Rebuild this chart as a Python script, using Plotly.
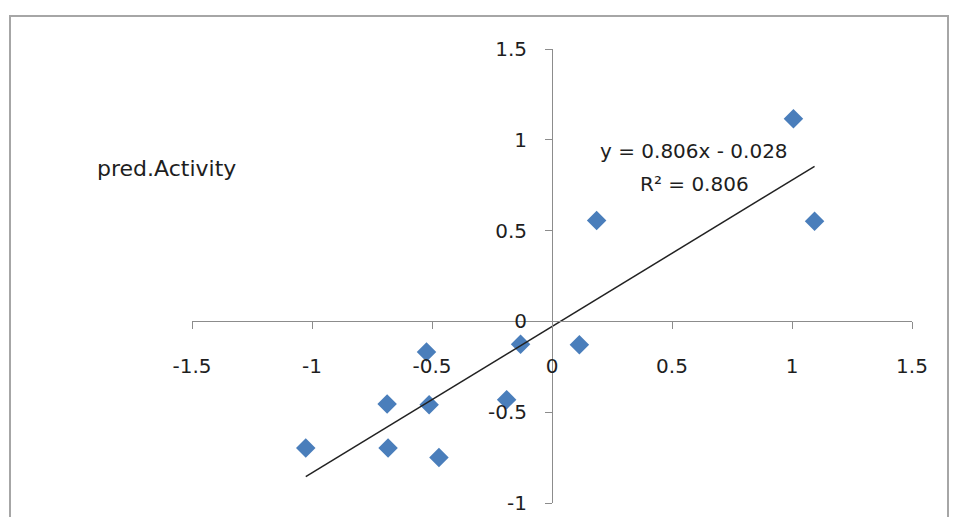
import plotly.graph_objects as go

# ---- data ----
exp_activity = [1.006, 1.094, 0.186, 0.114, -0.131, -0.523, -0.687, -0.512, -0.189, -1.026, -0.683, -0.471]
pred_activity = [1.116, 0.551, 0.556, -0.128, -0.126, -0.168, -0.455, -0.459, -0.431, -0.697, -0.697, -0.749]

trend_slope = 0.806
trend_intercept = -0.028
trend_label = "y = 0.806x - 0.028"
r2_label = "R² = 0.806"
series_label = "pred.Activity"

x_ticks = [-1.5, -1, -0.5, 0, 0.5, 1, 1.5]
x_tick_text = ["-1.5", "-1", "-0.5", "0", "0.5", "1", "1.5"]
y_ticks = [-1, -0.5, 0, 0.5, 1, 1.5]
y_tick_text = ["-1", "-0.5", "0", "0.5", "1", "1.5"]

x_range = [-1.5, 1.5]
y_range = [-1, 1.5]

# ---- layout geometry (page has an 8px body offset) ----
OFF = 8
W, H = 955, 509
PL, PR, PT, PB = 192, 912, 49, 503          # target screen pixels of plot area
ML, MR, MT, MB = PL - OFF, W - (PR - OFF), PT - OFF, H - (PB - OFF)
PW, PH = W - ML - MR, H - MT - MB


def px_x(p):
    return (p - OFF - ML) / PW


def px_y(p):
    return (H - MB - (p - OFF)) / PH


FONT = "DejaVu Sans"
TXT = "#1e1e1e"
AXIS = "#8c8c8c"

fig = go.Figure()

fig.add_trace(go.Scatter(
    x=exp_activity, y=pred_activity, mode="markers",
    marker=dict(symbol="diamond", size=15, color="#4a7ebb", line=dict(width=0)),
    showlegend=False, hoverinfo="x+y",
))

tx = [min(exp_activity), max(exp_activity)]
ty = [trend_slope * v + trend_intercept for v in tx]
fig.add_trace(go.Scatter(
    x=tx, y=ty, mode="lines",
    line=dict(color="#222222", width=1.5),
    showlegend=False, hoverinfo="skip",
))

x_cross = (0 - y_range[0]) / (y_range[1] - y_range[0])
y_cross = (0 - x_range[0]) / (x_range[1] - x_range[0])

fig.update_layout(
    width=W, height=H, autosize=False,
    margin=dict(l=ML, r=MR, t=MT, b=MB, pad=0, autoexpand=False),
    paper_bgcolor="white", plot_bgcolor="white",
    font=dict(family=FONT, size=20, color=TXT),
    xaxis=dict(
        range=x_range, domain=[0, 1], anchor="free", position=x_cross, automargin=False,
        showgrid=False, zeroline=False, showline=True, linecolor=AXIS, linewidth=1,
        ticks="outside", ticklen=7, tickcolor=AXIS, tickwidth=1,
        tickvals=x_ticks, ticktext=x_tick_text, ticklabelstandoff=20,
        tickfont=dict(family=FONT, size=20, color=TXT),
    ),
    yaxis=dict(
        range=y_range, domain=[0, 1], anchor="free", position=y_cross, automargin=False,
        showgrid=False, zeroline=False, showline=True, linecolor=AXIS, linewidth=1,
        ticks="outside", ticklen=7, tickcolor=AXIS, tickwidth=1,
        tickvals=y_ticks, ticktext=y_tick_text, ticklabelstandoff=14,
        tickfont=dict(family=FONT, size=20, color=TXT),
    ),
    shapes=[dict(
        type="rect", xref="paper", yref="paper",
        x0=px_x(10), x1=px_x(948), y0=px_y(540), y1=px_y(16),
        line=dict(color="#a6a6a6", width=2), fillcolor="rgba(0,0,0,0)", layer="below",
    )],
    annotations=[
        dict(text=series_label, xref="paper", yref="paper", x=px_x(95), y=px_y(169),
             xanchor="left", yanchor="middle", showarrow=False,
             font=dict(family=FONT, size=22, color=TXT)),
        dict(text=trend_label, xref="paper", yref="paper", x=px_x(694), y=px_y(151),
             xanchor="center", yanchor="middle", showarrow=False,
             font=dict(family=FONT, size=20, color=TXT)),
        dict(text=r2_label, xref="paper", yref="paper", x=px_x(694), y=px_y(184),
             xanchor="center", yanchor="middle", showarrow=False,
             font=dict(family=FONT, size=20, color=TXT)),
    ],
)

fig.write_html("out.html")
